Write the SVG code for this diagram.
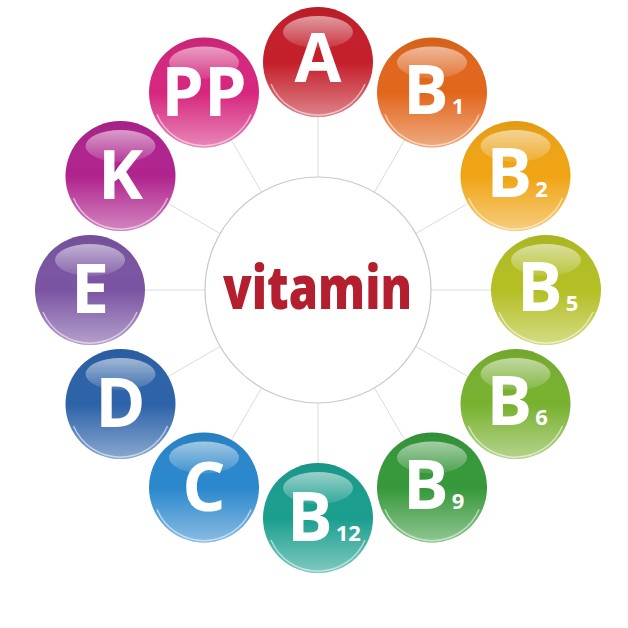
<svg xmlns="http://www.w3.org/2000/svg" width="628" height="628" viewBox="0 0 628 628">
<defs>
<linearGradient id="shade" x1="0" y1="0" x2="0" y2="1">
<stop offset="0" stop-color="#000" stop-opacity="0.06"/>
<stop offset="0.5" stop-color="#fff" stop-opacity="0"/>
<stop offset="1" stop-color="#fff" stop-opacity="0.45"/>
</linearGradient>
<linearGradient id="gloss" x1="0" y1="0" x2="0" y2="1">
<stop offset="0" stop-color="#fff" stop-opacity="0.55"/>
<stop offset="1" stop-color="#fff" stop-opacity="0.1"/>
</linearGradient>
<g id="fx">
<circle r="55" fill="url(#shade)"/>
<ellipse cx="0" cy="-30" rx="35" ry="16" fill="url(#gloss)"/>
<path d="M -47 22 A 51 51 0 0 0 47 22" fill="none" stroke="#fff" stroke-opacity="0.55" stroke-width="1.5"/>
</g>
</defs>
<style>
.spoke{stroke:#dcdcdc;stroke-width:1;fill:none}
.lbl{font-family:"Open Sans","Liberation Sans",sans-serif;font-weight:700;fill:#fff;font-size:68px}
.sub{font-size:22px}
</style>
<rect width="628" height="628" fill="#fff"/>
<g id="connectors">
<line class="spoke" x1="318" y1="177" x2="318" y2="117"/>
<line class="spoke" x1="374.5" y1="192.1" x2="404.5" y2="140.2"/>
<line class="spoke" x1="415.9" y1="233.5" x2="467.8" y2="203.5"/>
<line class="spoke" x1="431" y1="290" x2="491" y2="290"/>
<line class="spoke" x1="415.9" y1="346.5" x2="467.8" y2="376.5"/>
<line class="spoke" x1="374.5" y1="387.9" x2="404.5" y2="439.8"/>
<line class="spoke" x1="318" y1="403" x2="318" y2="463"/>
<line class="spoke" x1="261.5" y1="387.9" x2="231.5" y2="439.8"/>
<line class="spoke" x1="220.1" y1="346.5" x2="168.2" y2="376.5"/>
<line class="spoke" x1="205" y1="290" x2="145" y2="290"/>
<line class="spoke" x1="220.1" y1="233.5" x2="168.2" y2="203.5"/>
<line class="spoke" x1="261.5" y1="192.1" x2="231.5" y2="140.2"/>
</g>
<g id="center">
<circle cx="318" cy="290" r="113" fill="#fff" stroke="#c8c8c8" stroke-width="1.2"/>
<text x="223" y="309" textLength="189" lengthAdjust="spacingAndGlyphs" font-family="Open Sans, Liberation Sans, sans-serif" font-weight="800" font-size="61" fill="#b41f30">vitamin</text>
</g>
<g id="vitA" transform="translate(318,62)">
<circle r="55" fill="#c41e2a"/><use href="#fx"/>
<text class="lbl" x="0" y="20" text-anchor="middle">A</text>
</g>
<g id="vitB1" transform="translate(432,92.5)">
<circle r="55" fill="#e2661c"/><use href="#fx"/>
<text class="lbl" x="-29" y="21">B<tspan class="sub" dx="3">1</tspan></text>
</g>
<g id="vitB2" transform="translate(515.5,176)">
<circle r="55" fill="#f0a414"/><use href="#fx"/>
<text class="lbl" x="-29" y="21">B<tspan class="sub" dx="3">2</tspan></text>
</g>
<g id="vitB5" transform="translate(546,290)">
<circle r="55" fill="#b3bf23"/><use href="#fx"/>
<text class="lbl" x="-29" y="21">B<tspan class="sub" dx="3">5</tspan></text>
</g>
<g id="vitB6" transform="translate(515.5,404)">
<circle r="55" fill="#78b12f"/><use href="#fx"/>
<text class="lbl" x="-29" y="21">B<tspan class="sub" dx="3">6</tspan></text>
</g>
<g id="vitB9" transform="translate(432,487.5)">
<circle r="55" fill="#36983a"/><use href="#fx"/>
<text class="lbl" x="-29" y="21">B<tspan class="sub" dx="3">9</tspan></text>
</g>
<g id="vitB12" transform="translate(318,518)">
<circle r="55" fill="#1a9e8e"/><use href="#fx"/>
<text class="lbl" x="-31" y="23">B<tspan class="sub" dx="3">12</tspan></text>
</g>
<g id="vitC" transform="translate(204,487.5)">
<circle r="55" fill="#2a87cc"/><use href="#fx"/>
<text class="lbl" x="0" y="23" text-anchor="middle">C</text>
</g>
<g id="vitD" transform="translate(120.5,404)">
<circle r="55" fill="#2c62a8"/><use href="#fx"/>
<text class="lbl" x="0" y="23" text-anchor="middle">D</text>
</g>
<g id="vitE" transform="translate(90,290)">
<circle r="55" fill="#7a54a3"/><use href="#fx"/>
<text class="lbl" x="0" y="23" text-anchor="middle">E</text>
</g>
<g id="vitK" transform="translate(120.5,176)">
<circle r="55" fill="#b0238e"/><use href="#fx"/>
<text class="lbl" x="0" y="23" text-anchor="middle">K</text>
</g>
<g id="vitPP" transform="translate(204,92.5)">
<circle r="55" fill="#d6267e"/><use href="#fx"/>
<text class="lbl" x="0" y="23" text-anchor="middle">PP</text>
</g>
</svg>
